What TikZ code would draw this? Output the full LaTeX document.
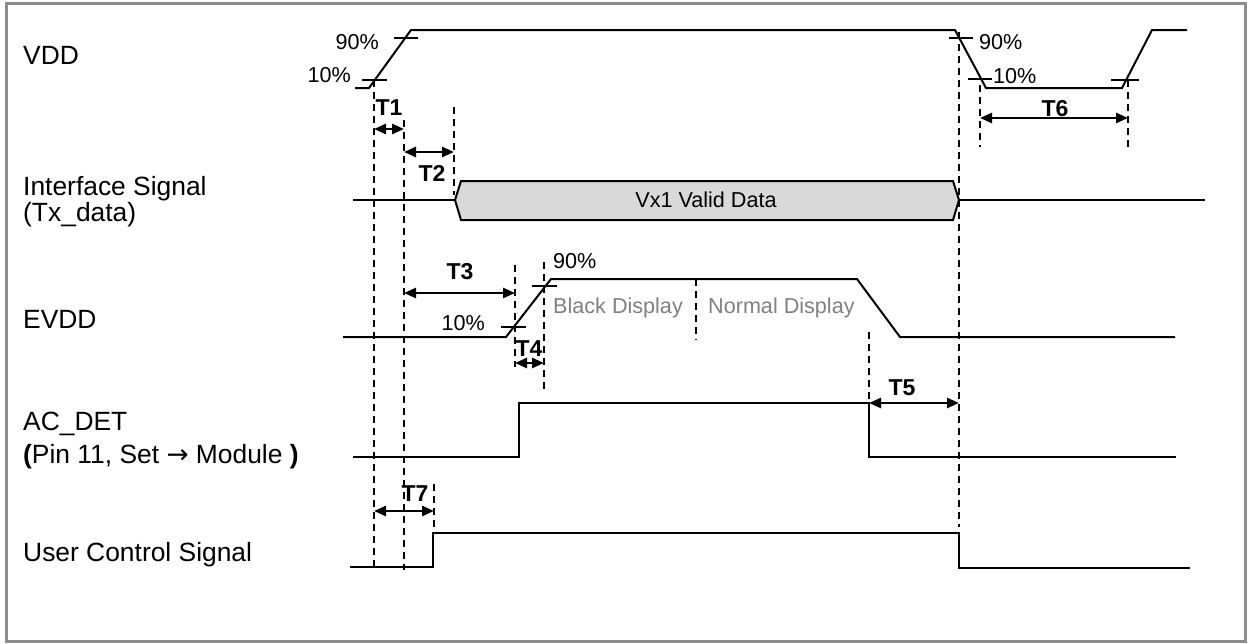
\documentclass[tikz,border=0pt]{standalone}
\usepackage{fontspec}
\setmainfont{Liberation Sans}
\newfontfamily\arrowfont{DejaVu Sans}
\usetikzlibrary{arrows.meta}
\definecolor{framegray}{RGB}{140,140,140}
\definecolor{busgray}{RGB}{217,217,217}
\definecolor{txtgray}{RGB}{128,128,128}
\tikzset{
  sig/.style={line width=2pt},
  guide/.style={line width=1.8pt, dash pattern=on 7pt off 5pt},
  tickmark/.style={line width=1.2pt},
  dim/.style={line width=2.6pt, {Triangle[length=12pt,width=10pt]}-{Triangle[length=12pt,width=10pt]}},
  lbl/.style={anchor=base west, inner sep=0pt, font=\fontsize{26.4}{30}\selectfont},
  pct/.style={inner sep=0pt, font=\fontsize{21.6}{25}\selectfont},
  tname/.style={anchor=base, inner sep=0pt, font=\fontsize{23}{26}\selectfont\bfseries},
}
\begin{document}
\begin{tikzpicture}[x=1pt,y=-1pt]
  \useasboundingbox (0,0) rectangle (1251,643);
  \draw[framegray, line width=3pt] (6,3) rectangle (1245,641);

  \node[lbl] (vddlbl) at (23,64) {VDD};
  \node[lbl] (iflbl) at (23,195.5) {Interface Signal};
  \node[lbl] (txlbl) at (23,221) {(Tx\_data)};
  \node[lbl] (evddlbl) at (23,328.5) {EVDD};
  \node[lbl] (acdetlbl) at (23,430.5) {AC\_DET};
  \node[lbl] (pinlbl) at (23,463.5) {{\bfseries(}Pin 11, Set {\arrowfont →} Module {\bfseries)}};
  \node[lbl] (userlbl) at (23,561.5) {User Control Signal};

  % VDD
  \draw[sig] (355,88) -- (369,88) -- (411,30) -- (955,30) -- (986,88) -- (1122,88) -- (1152,30) -- (1187,30);
  \draw[tickmark] (394,38) -- (418,38);
  \draw[tickmark] (362,80) -- (387,80);
  \draw[tickmark] (949,38) -- (973,38);
  \draw[tickmark] (968,79) -- (992,79);
  \draw[tickmark] (1111,80) -- (1139,80);
  \node[pct, anchor=base east] (vdd90a) at (379,49) {90\%};
  \node[pct, anchor=base east] (vdd10a) at (351,82) {10\%};
  \node[pct, anchor=base west] (vdd90b) at (979,49) {90\%};
  \node[pct, anchor=base west] (vdd10b) at (993,83) {10\%};

  % interface signal
  \draw[sig] (353,200) -- (455,200);
  \draw[sig, fill=busgray] (455,200) -- (461,181) -- (953,181) -- (959,200) -- (953,220) -- (461,220) -- cycle;
  \draw[sig] (959,200) -- (1205,200);
  \node[pct] (busdata) at (706,200) {Vx1 Valid Data};

  % EVDD
  \draw[sig] (343,337) -- (506,337) -- (551,279) -- (857,279) -- (900,337) -- (1175,337);
  \draw[tickmark] (501,327) -- (526,327);
  \draw[tickmark] (532,286) -- (557,286);
  \node[pct, anchor=base east] (evdd10) at (485,330) {10\%};
  \node[pct, anchor=base west] (evdd90) at (553,268) {90\%};
  \node[pct, anchor=base west, text=txtgray] (blackdisp) at (553,313) {Black Display};
  \node[pct, anchor=base west, text=txtgray] (normaldisp) at (708,313) {Normal Display};

  % AC_DET and user control
  \draw[sig] (353,457) -- (519,457) -- (519,403) -- (869,403) -- (869,457) -- (1176,457);
  \draw[sig] (350,567) -- (433,567) -- (433,533) -- (959,533) -- (959,568) -- (1190,568);

  % guides
  \draw[guide] (374,80) -- (374,570);
  \draw[guide] (404,120) -- (404,570);
  \draw[guide] (454,107) -- (454,195);
  \draw[guide] (959,32) -- (959,527);
  \draw[guide] (980,85) -- (980,147);
  \draw[guide] (1128,80) -- (1128,147);
  \draw[guide] (515,265) -- (515,367);
  \draw[guide] (544,262) -- (544,393);
  \draw[guide] (696,279) -- (696,340);
  \draw[guide] (869,332) -- (869,455);
  \draw[guide] (434,484) -- (434,533);

  % timings
  \draw[dim] (374,129) -- (404,129);
  \draw[dim] (404,152) -- (454,152);
  \draw[dim] (404,293) -- (515,293);
  \draw[dim] (515,363) -- (544,363);
  \draw[dim] (869,403) -- (959,403);
  \draw[dim] (980,118) -- (1128,118);
  \draw[dim] (374,511) -- (434,511);
  \node[tname] (t1) at (389,115) {T1};
  \node[tname] (t2) at (432,181) {T2};
  \node[tname] (t3) at (460,279) {T3};
  \node[tname] (t4) at (529,356) {T4};
  \node[tname] (t5) at (902,395) {T5};
  \node[tname] (t6) at (1055,116) {T6};
  \node[tname] (t7) at (415,501) {T7};
\end{tikzpicture}
\end{document}
